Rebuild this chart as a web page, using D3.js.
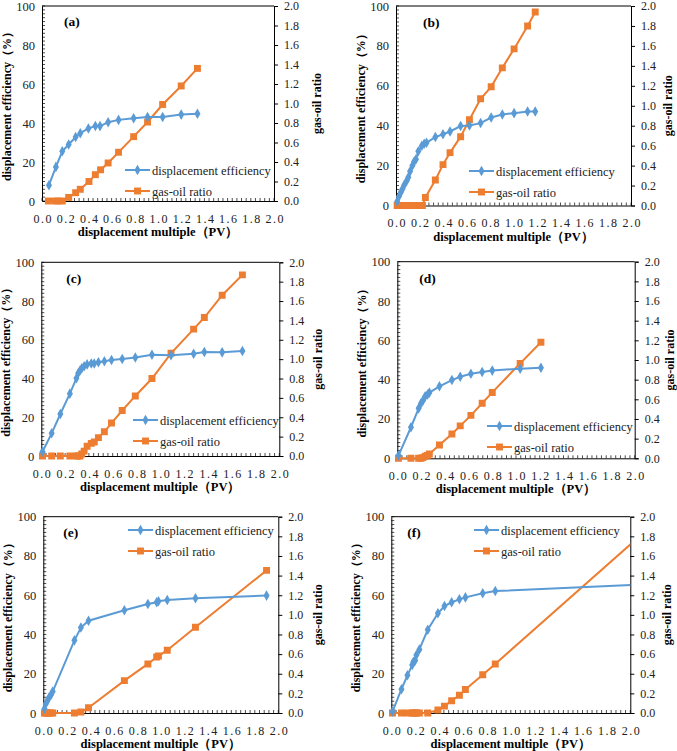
<!DOCTYPE html>
<html>
<head>
<meta charset="utf-8">
<script src="https://cdn.jsdelivr.net/npm/d3@7"></script>
<style>
body{margin:0;background:#fff;overflow:hidden}
svg{display:block}
svg text{font-family:"Liberation Serif","Tinos","Times New Roman","DejaVu Serif",serif}
</style>
</head>
<body>
<script>
// values, one set per panel
const aX   = [0.06,0.12,0.175,0.23,0.29,0.33,0.40,0.46,0.50,0.57,0.66,0.79,0.91,1.04,1.20,1.34];
const aDE  = [8.1,17.5,25.5,29,32.8,34.8,37.2,38.5,38.4,40.4,41.6,42.4,43.1,43.1,44.3,44.7];
const aGorX= [0.055,0.115,0.14,0.175,0.23,0.29,0.33,0.405,0.46,0.505,0.57,0.66,0.79,0.91,1.04,1.20,1.34];
const aGOR = [0,0,0,0,0.037,0.085,0.12,0.20,0.27,0.32,0.39,0.50,0.66,0.81,0.99,1.18,1.36];

const bX   = [0.01,0.025,0.04,0.055,0.07,0.09,0.105,0.12,0.14,0.155,0.17,0.19,0.22,0.24,0.26,0.335,0.40,0.46,0.55,0.625,0.72,0.81,0.905,1.005,1.12,1.185];
const bDE  = [2,4.5,6.5,8.3,10.3,12.3,14.1,17.2,20,22,23.2,27.2,30,31,31.5,34.3,35.7,37.1,39.8,40.1,41.3,44.1,45.6,46.3,47.1,47.1];
const bGorX= [0.01,0.03,0.05,0.07,0.1,0.12,0.14,0.165,0.185,0.205,0.225,0.25,0.335,0.40,0.46,0.55,0.625,0.72,0.81,0.905,1.005,1.12,1.185];
const bGOR = [0,0,0,0,0,0,0,0,0,0,0,0.08,0.255,0.41,0.53,0.69,0.86,1.07,1.19,1.38,1.57,1.80,1.94];

const cX   = [0.01,0.087,0.16,0.24,0.295,0.31,0.325,0.34,0.36,0.385,0.42,0.445,0.48,0.53,0.59,0.68,0.79,0.93,1.09,1.28,1.37,1.52,1.69];
const cDE  = [2.2,11.7,21.7,32.2,40.1,42.7,44.1,45.3,46.3,47.3,47.7,47.8,48.4,48.9,49.6,50.1,50.8,52.3,52.0,52.8,53.7,53.5,54.2];
const cGOR = [0,0,0,0,0,0,0,0.02,0.05,0.10,0.13,0.145,0.19,0.25,0.34,0.47,0.62,0.80,1.06,1.31,1.43,1.66,1.87];

const dX   = [0.01,0.115,0.18,0.20,0.215,0.235,0.255,0.27,0.355,0.46,0.53,0.62,0.715,0.80,1.035,1.21];
const dDE  = [1.4,15.8,25.4,28,29.3,31.5,32.5,33.4,36.6,39.8,41.5,43,43.9,44.6,45.6,46.1];
const dGOR = [0,0,0,0,0.007,0.02,0.03,0.044,0.135,0.247,0.33,0.437,0.56,0.67,0.966,1.18];

const eX   = [0.01,0.02,0.035,0.05,0.065,0.08,0.265,0.32,0.385,0.69,0.89,0.965,0.98,1.055,1.295,1.90];
const eDE  = [2.2,4.6,6.3,8,9.2,10.9,37,43.5,47,52.3,55.5,56.4,56.9,57.6,58.4,59.8];
const eGOR = [0,0,0,0,0,0,0,0.01,0.054,0.33,0.50,0.57,0.58,0.64,0.873,1.453];

// last point of (f) sits past the right edge, the lines run out of the frame
const fX   = [0.01,0.085,0.135,0.175,0.185,0.2,0.21,0.235,0.305,0.39,0.445,0.505,0.57,0.62,0.765,0.87,2.3];
const fDE  = [0.7,12.1,19.2,24.4,26.1,26.8,29.5,32.4,42.4,50.8,54.5,56.4,57.9,58.9,61,62.1,66.0];
const fGOR = [0,0,0,0,0,0,0,0,0,0.03,0.07,0.125,0.18,0.24,0.39,0.50,2.04];

const xTicks = [0,0.2,0.4,0.6,0.8,1.0,1.2,1.4,1.6,1.8,2.0];
const leftTicks = [0,20,40,60,80,100];
const rightTicks = [0,0.2,0.4,0.6,0.8,1.0,1.2,1.4,1.6,1.8,2.0];
const seriesNames = ["displacement efficiency","gas-oil ratio"];

const blue="#5B9BD5", orange="#ED7D31";
const serif='"Liberation Serif","Tinos","Times New Roman","DejaVu Serif",serif';

// box: left, right, top, bottom ; lg: legend line start x, first row y ; tg: tag offset ; rt: right title offset
const panels=[
  {tag:"(a)",x:aX,de:aDE,gx:aGorX,gor:aGOR,box:[42,274,6,201],lg:[125,170],tg:[22,20],rt:43},
  {tag:"(b)",x:bX,de:bDE,gx:bGorX,gor:bGOR,box:[396,631,6,205.5],lg:[469,171],tg:[27,21],rt:37},
  {tag:"(c)",x:cX,de:cDE,gx:cX,gor:cGOR,box:[41.3,279.3,262.3,456],lg:[133,420],tg:[25,21],rt:39},
  {tag:"(d)",x:dX,de:dDE,gx:dX,gor:dGOR,box:[397.3,634.7,261.7,458.3],lg:[487,426],tg:[22,21],rt:35},
  {tag:"(e)",x:eX,de:eDE,gx:eX,gor:eGOR,box:[43.3,278.3,516.7,713],lg:[128,530],tg:[20,20],rt:40},
  {tag:"(f)",x:fX,de:fDE,gx:fX,gor:fGOR,box:[391.3,630.3,516.7,713],lg:[474,530],tg:[16,20],rt:37}
];

const svg=d3.select("body").append("svg")
  .attr("width",677).attr("height",751);

const diamond=d3.symbol().type(d3.symbolDiamond).size(32);
const square=d3.symbol().type(d3.symbolSquare).size(48);

panels.forEach((p,pi)=>{
  const [L,R,T,B]=p.box;
  const x=d3.scaleLinear().domain([0,2]).range([L,R]);
  const yl=d3.scaleLinear().domain([0,100]).range([B,T]);
  const yr=d3.scaleLinear().domain([0,2]).range([B,T]);
  const g=svg.append("g");

  const clipId="clip"+pi;
  g.append("clipPath").attr("id",clipId)
    .append("rect").attr("x",L-6).attr("y",T-6).attr("width",R-L+6).attr("height",B-T+12);

  // minor ticks inside
  g.append("g").selectAll("line").data(d3.range(0,100.01,2)).join("line")
    .attr("x1",L).attr("x2",L+3).attr("y1",d=>yl(d)).attr("y2",d=>yl(d))
    .attr("stroke","#000").attr("stroke-width",0.7);
  g.append("g").selectAll("line").data(d3.range(0,2.001,0.04)).join("line")
    .attr("x1",d=>x(d)).attr("x2",d=>x(d)).attr("y1",B).attr("y2",B-3)
    .attr("stroke","#000").attr("stroke-width",0.7);

  // left axis
  const la=d3.axisLeft(yl).tickValues(leftTicks).tickSize(0).tickPadding(7);
  g.append("g").attr("transform",`translate(${L},0)`).call(la)
    .attr("font-family",serif)
    .call(s=>s.select(".domain").attr("stroke","#000"))
    .call(s=>s.selectAll("text").attr("font-size",12.5).attr("fill","#222"));
  // right axis
  const ra=d3.axisRight(yr).tickValues(rightTicks).tickSize(4).tickPadding(6).tickFormat(d3.format(".1f"));
  g.append("g").attr("transform",`translate(${R},0)`).call(ra)
    .attr("font-family",serif)
    .call(s=>s.select(".domain").attr("stroke","#000"))
    .call(s=>s.selectAll("line").attr("stroke","#000"))
    .call(s=>s.selectAll("text").attr("font-size",12).attr("fill","#222"));
  // bottom axis
  const ba=d3.axisBottom(x).tickValues(xTicks).tickSize(0).tickPadding(13).tickFormat(d3.format(".1f"));
  g.append("g").attr("transform",`translate(0,${B})`).call(ba)
    .attr("font-family",serif)
    .call(s=>s.select(".domain").attr("stroke","#000"))
    .call(s=>s.selectAll("text").attr("font-size",12)
      .attr("letter-spacing","1.5px").attr("dx","0.75px").attr("fill","#222"));
  // top border
  g.append("line").attr("x1",L).attr("x2",R).attr("y1",T).attr("y2",T).attr("stroke","#000");

  // series
  const deData=p.x.map((v,i)=>[v,p.de[i]]);
  const gorData=p.gx.map((v,i)=>[v,p.gor[i]]);
  const plot=g.append("g").attr("clip-path",`url(#${clipId})`);
  plot.append("path").datum(gorData)
    .attr("fill","none").attr("stroke",orange).attr("stroke-width",2)
    .attr("d",d3.line().x(d=>x(d[0])).y(d=>yr(d[1])));
  plot.selectAll(".sq").data(gorData).join("path").attr("class","sq")
    .attr("transform",d=>`translate(${x(d[0])},${yr(d[1])})`)
    .attr("d",square).attr("fill",orange);
  plot.append("path").datum(deData)
    .attr("fill","none").attr("stroke",blue).attr("stroke-width",2)
    .attr("d",d3.line().x(d=>x(d[0])).y(d=>yl(d[1])));
  plot.selectAll(".dm").data(deData).join("path").attr("class","dm")
    .attr("transform",d=>`translate(${x(d[0])},${yl(d[1])})`)
    .attr("d",diamond).attr("fill",blue);

  // titles (rotated: glyphs rise to the left of the baseline)
  g.append("text").attr("transform",`translate(${L-31},${(T+B)/2}) rotate(-90)`)
    .attr("text-anchor","middle")
    .attr("font-weight","bold").attr("font-size",12)
    .text("displacement efficiency（%）");
  g.append("text").attr("transform",`translate(${R+p.rt+4},${(T+B)/2}) rotate(-90)`)
    .attr("text-anchor","middle")
    .attr("font-weight","bold").attr("font-size",12)
    .text("gas-oil ratio");
  g.append("text").attr("x",(L+R)/2).attr("y",B+35)
    .attr("text-anchor","middle").attr("font-weight","bold").attr("font-size",12.5)
    .text("displacement multiple（PV）");
  g.append("text").attr("x",L+p.tg[0]).attr("y",T+p.tg[1])
    .attr("font-weight","bold").attr("font-size",13.5).text(p.tag);

  // legend
  const [lx,ly]=p.lg;
  const lg=g.append("g");
  [[blue,diamond],[orange,square]].forEach(([c,sym],i)=>{
    const yy=ly+i*21;
    lg.append("line").attr("x1",lx).attr("x2",lx+25).attr("y1",yy).attr("y2",yy)
      .attr("stroke",c).attr("stroke-width",2);
    lg.append("path").attr("d",sym).attr("fill",c).attr("transform",`translate(${lx+12.5},${yy})`);
    lg.append("text").attr("x",lx+27).attr("y",yy+4.5).attr("font-size",12.5).attr("fill","#222")
      .text(seriesNames[i]);
  });
});
</script>
</body>
</html>
